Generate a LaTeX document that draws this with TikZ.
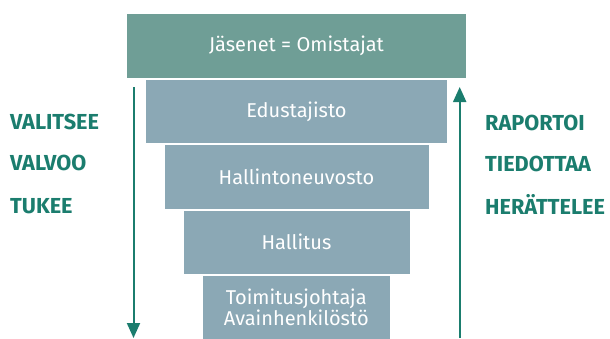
\documentclass[tikz,border=0pt]{standalone}
\usepackage{fontspec}
\setmainfont{Fira Sans}
\usetikzlibrary{arrows.meta}
\definecolor{topbox}{RGB}{111,158,150}
\definecolor{lowbox}{RGB}{139,168,181}
\definecolor{tealtxt}{RGB}{27,125,110}
\tikzset{
  layer/.style={fill=lowbox, draw=none, text=white, inner sep=0pt, align=center, font=\fontsize{20}{21.5}\selectfont},
  toplayer/.style={layer, fill=topbox},
  verb/.style={text=tealtxt, inner sep=0pt, anchor=base west, font=\fontsize{21.7}{24}\selectfont\bfseries},
  flow/.style={draw=tealtxt, line width=2pt, -{Triangle[width=13pt,length=15pt]}}
}
\begin{document}
\begin{tikzpicture}[x=1pt,y=-1pt]
\useasboundingbox (0,0) rectangle (610,338);
\node[toplayer, minimum width=339pt, minimum height=64pt] (jas) at (296.5,46) {Jäsenet = Omistajat};
\node[layer, minimum width=301pt, minimum height=63pt] (edu) at (296.5,111.5) {Edustajisto};
\node[layer, minimum width=264pt, minimum height=63.5pt] (hn) at (296.5,176.75) {Hallintoneuvosto};
\node[layer, minimum width=226pt, minimum height=63.5pt] (hal) at (296.5,242.25) {Hallitus};
\node[layer, minimum width=187.5pt, minimum height=63pt] (tj) at (296.25,307.5) {Toimitusjohtaja\\Avainhenkilöstö};
\coordinate (ltop) at (133.5,87);
\coordinate (lbot) at (133.5,338);
\coordinate (rbot) at (459.7,338);
\coordinate (rtop) at (459.7,87);
\draw[flow] (ltop) -- (lbot);
\draw[flow] (rbot) -- (rtop);
\node[verb] (v1) at (10,129) {VALITSEE};
\node[verb] (v2) at (10,170) {VALVOO};
\node[verb] (v3) at (10,213) {TUKEE};
\node[verb] (r1) at (485,130) {RAPORTOI};
\node[verb] (r2) at (485,171.5) {TIEDOTTAA};
\node[verb] (r3) at (485,214) {HERÄTTELEE};
\end{tikzpicture}
\end{document}
